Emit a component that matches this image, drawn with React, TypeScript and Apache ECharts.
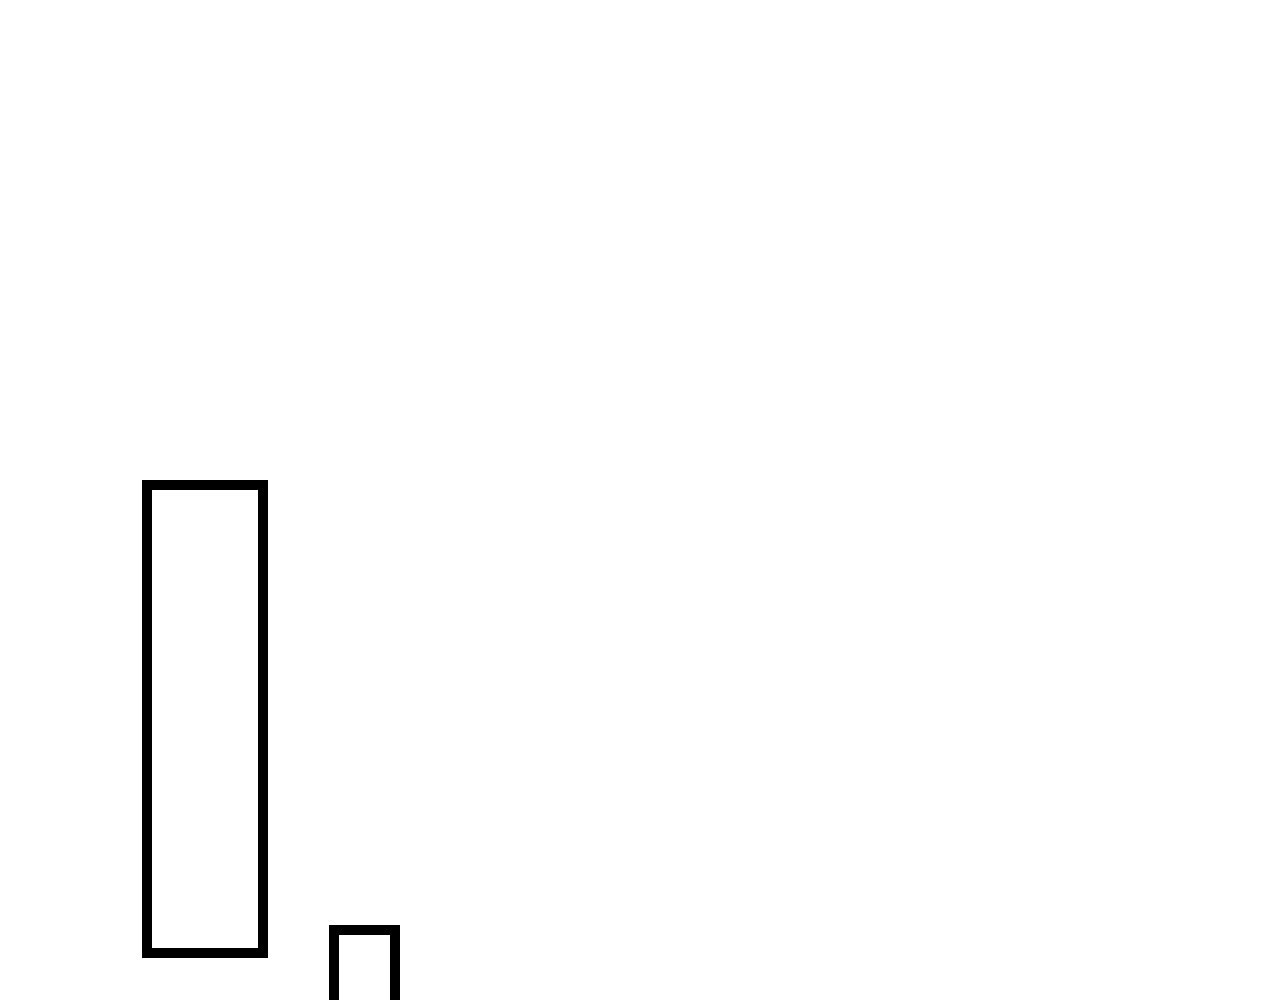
import React, { useEffect, useRef } from 'react';
import * as echarts from 'echarts';

// each bar: left and right edge on the x scale, bottom and top on the y scale
const barLeft = [14.7, 33.4];
const barRight = [26.3, 39.5];
const barBottom = [4.7, -5];
const barTop = [51.5, 7.0];

const App: React.FC = () => {
  const chartRef = useRef<HTMLDivElement>(null);

  useEffect(() => {
    document.body.style.margin = '0';
    if (!chartRef.current) return;

    const chart = echarts.init(chartRef.current, undefined, { renderer: 'svg' });

    const data = barLeft.map((x0, i) => [x0, barRight[i], barBottom[i], barTop[i]]);

    const option: echarts.EChartsOption = {
      animation: false,
      backgroundColor: '#ffffff',
      grid: { left: 0, right: 0, top: 0, bottom: 0 },
      xAxis: { type: 'value', min: 0, max: 128, show: false },
      yAxis: { type: 'value', min: 0, max: 100, show: false },
      series: [
        {
          type: 'custom',
          clip: true,
          data,
          renderItem: (params: any, api: any) => {
            const p0 = api.coord([api.value(0), api.value(3)]);
            const p1 = api.coord([api.value(1), api.value(2)]);
            return {
              type: 'rect',
              shape: { x: p0[0], y: p0[1], width: p1[0] - p0[0], height: p1[1] - p0[1] },
              style: { fill: '#ffffff', stroke: '#000000', lineWidth: 10 },
            };
          },
        },
      ],
    };

    chart.setOption(option);

    return () => {
      chart.dispose();
    };
  }, []);

  return <div ref={chartRef} style={{ width: '1280px', height: '1000px' }}></div>;
};

export default App;
